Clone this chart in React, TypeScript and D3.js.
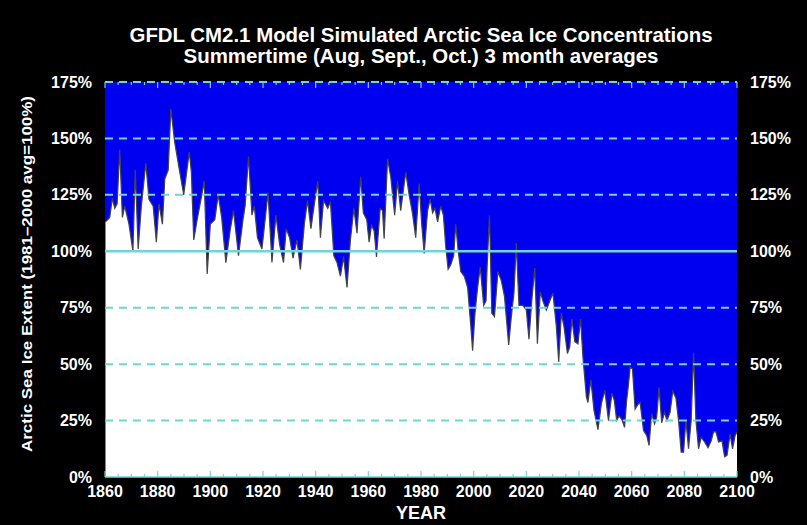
import { useEffect, useRef } from 'react'
import * as d3 from 'd3'

// simulated summertime sea ice extent, % of 1981-2000 average
const years = [
  1860.2, 1861.8, 1862.8, 1863.7, 1864.6, 1865.6, 1866.6, 1867.5, 1869.1, 1870.6,
  1871.5, 1872.6, 1873.8, 1875.5, 1876.7, 1878.3, 1879.5, 1880.5, 1881.8, 1882.7,
  1884.0, 1885.0, 1886.5, 1888.1, 1889.9, 1892.0, 1892.8, 1893.7, 1895.0, 1896.6,
  1897.7, 1898.8, 1900.0, 1901.7, 1903.0, 1904.3, 1905.9, 1907.5, 1908.8, 1910.7,
  1912.4, 1913.2, 1914.5, 1915.8, 1916.7, 1917.9, 1919.6, 1920.9, 1921.9, 1923.4,
  1924.9, 1926.3, 1927.8, 1928.8, 1930.1, 1931.4, 1932.9, 1934.2, 1935.7, 1936.9,
  1938.2, 1939.5, 1940.8, 1941.8, 1943.0, 1944.6, 1945.6, 1946.9, 1948.1, 1949.4,
  1950.6, 1951.9, 1953.2, 1954.5, 1955.7, 1957.1, 1958.1, 1959.4, 1960.3, 1961.2,
  1962.2, 1963.1, 1964.5, 1965.4, 1966.0, 1967.3, 1968.5, 1970.0, 1971.1, 1972.3,
  1974.2, 1975.5, 1976.8, 1978.0, 1979.3, 1980.3, 1981.2, 1982.5, 1983.5, 1984.4,
  1985.3, 1986.3, 1987.5, 1988.5, 1989.4, 1990.3, 1991.3, 1992.4, 1993.2, 1994.1,
  1995.1, 1996.4, 1997.7, 1998.9, 1999.6, 2000.5, 2001.5, 2002.5, 2003.8, 2004.7,
  2005.1, 2006.0, 2006.9, 2007.9, 2009.2, 2010.5, 2011.7, 2013.3, 2014.3, 2015.3,
  2016.2, 2017.2, 2018.7, 2020.0, 2021.0, 2022.1, 2023.2, 2024.2, 2025.3, 2026.3,
  2027.6, 2028.9, 2030.1, 2031.4, 2032.3, 2033.3, 2034.3, 2035.6, 2036.5, 2037.3,
  2038.4, 2039.6, 2040.6, 2041.5, 2042.8, 2043.4, 2044.5, 2045.7, 2047.2, 2048.5,
  2049.8, 2051.2, 2052.5, 2053.4, 2054.3, 2055.2, 2056.2, 2057.3, 2058.1, 2058.8,
  2059.4, 2060.3, 2061.3, 2062.3, 2063.2, 2064.5, 2065.7, 2066.6, 2067.6, 2068.7,
  2069.5, 2070.4, 2071.4, 2072.5, 2073.4, 2074.6, 2075.6, 2076.8, 2077.8, 2078.8,
  2079.7, 2080.6, 2081.6, 2082.6, 2083.5, 2084.4, 2085.4, 2086.4, 2087.7, 2089.0,
  2090.2, 2091.1, 2092.0, 2093.0, 2094.3, 2095.3, 2096.2, 2097.4, 2098.3, 2099.3,
  2100.0,
]
const extent = [
  113, 115, 123.5, 119, 121, 145, 115, 120, 112, 100,
  136, 101, 120, 139, 123, 120, 104, 121, 112, 132,
  136, 163, 148, 137, 125, 144, 135, 105, 114, 124,
  131, 90, 112, 114, 125, 115, 95, 109, 118, 98,
  114, 120, 142, 116, 120, 106, 101, 115, 126, 95,
  116, 103, 95, 110, 106, 97, 105, 92, 112, 122.5,
  110, 121, 131, 106, 122.5, 119, 122, 98, 95, 89,
  97.5, 84, 105, 119, 108, 133, 117, 114, 104, 111.5,
  109, 97.5, 119, 118, 105.6, 141, 133, 116, 131, 118,
  135, 125, 116.6, 106, 130, 111.5, 99, 118, 123, 117,
  119, 113, 120, 116, 102, 92, 94, 98, 112, 100.4,
  91, 89, 84, 67, 56, 72.5, 84, 93, 76, 78,
  93, 116, 72.5, 71, 91, 87, 80, 58.5, 71, 81.5,
  103.7, 76, 76, 74, 61, 78.5, 92.6, 59, 82, 78,
  74, 78, 81.5, 66.6, 51, 72.5, 66.6, 54.7, 57.7, 70,
  60, 59, 70, 53, 35.5, 33, 43, 29.5, 21, 32.5,
  38.4, 25, 37, 34, 25, 27, 25.7, 22, 34, 41,
  48.5, 48, 30, 32, 33, 20.6, 18.4, 14, 28, 23.5,
  26.5, 39.7, 24, 28.7, 25, 28.7, 38, 35, 25, 11,
  11, 25, 12.5, 25, 55, 25, 12.5, 17.6, 15.5, 13,
  16, 20, 20, 15.5, 16, 9, 9.6, 19, 12.5, 18.4,
  20,
]

const yTicks = [0, 25, 50, 75, 100, 125, 150, 175]
const xTicks = [1860, 1880, 1900, 1920, 1940, 1960, 1980, 2000, 2020, 2040, 2060, 2080, 2100]

const titleLines = [
  'GFDL CM2.1 Model Simulated Arctic Sea Ice Concentrations',
  'Summertime (Aug, Sept., Oct.) 3 month averages',
]
const titleWidths = [583, 475]

const W = 807
const H = 525
const FONT = '"Liberation Sans", Arial, Helvetica, sans-serif'
const GRID = '#6fd6d6'

export default function App() {
  const svgRef = useRef<SVGSVGElement | null>(null)

  useEffect(() => {
    document.body.style.margin = '0'
    if (!svgRef.current) return
    const margin = { top: 82, right: 70, bottom: 48, left: 105 }
    const innerW = W - margin.left - margin.right
    const innerH = H - margin.top - margin.bottom

    const svg = d3.select(svgRef.current)
    svg.selectAll('*').remove()

    svg.append('rect').attr('width', W).attr('height', H).attr('fill', '#000')

    const x = d3.scaleLinear().domain([1860, 2100]).range([0, innerW])
    const y = d3.scaleLinear().domain([0, 175]).range([innerH, 0])

    const g = svg.append('g').attr('transform', `translate(${margin.left},${margin.top})`)

    g.append('rect').attr('width', innerW).attr('height', innerH).attr('fill', '#0000f0')

    const pts = years.map((yr, i) => [yr, extent[i]] as [number, number])

    g.append('path')
      .datum(pts)
      .attr('fill', '#fff')
      .attr('d', d3.area<[number, number]>()
        .x(d => x(d[0]))
        .y0(innerH)
        .y1(d => y(d[1])))

    g.append('path')
      .datum(pts)
      .attr('fill', 'none')
      .attr('stroke', '#444')
      .attr('stroke-width', 1.2)
      .attr('d', d3.line<[number, number]>().x(d => x(d[0])).y(d => y(d[1])))

    // grid lines
    g.selectAll('.grid')
      .data(yTicks.filter(t => t > 0))
      .join('line')
      .attr('x1', 0)
      .attr('x2', innerW)
      .attr('y1', d => y(d))
      .attr('y2', d => y(d))
      .attr('stroke', GRID)
      .attr('stroke-width', d => (d === 100 ? 2.5 : 2))
      .attr('stroke-dasharray', d => (d === 100 ? null : '8,6'))

    g.append('line')
      .attr('x1', 0).attr('x2', innerW)
      .attr('y1', innerH).attr('y2', innerH)
      .attr('stroke', GRID).attr('stroke-width', 1.5)

    // year ticks, top and bottom
    const minor = d3.range(1860, 2101, 5)
    g.selectAll('.tb')
      .data(minor)
      .join('line')
      .attr('x1', d => x(d)).attr('x2', d => x(d))
      .attr('y1', 0).attr('y2', d => (d % 20 === 0 ? 6 : 3))
      .attr('stroke', GRID).attr('stroke-width', 1.2)
    g.selectAll('.bb')
      .data(minor)
      .join('line')
      .attr('x1', d => x(d)).attr('x2', d => x(d))
      .attr('y1', innerH).attr('y2', d => innerH - (d % 20 === 0 ? 6 : 3))
      .attr('stroke', GRID).attr('stroke-width', 1.2)

    const txt = (sel: d3.Selection<any, any, any, any>, size: number) =>
      sel.attr('fill', '#fff').attr('font-family', FONT).attr('font-weight', 'bold').attr('font-size', size)

    // y tick labels on both sides
    txt(g.selectAll('.yl').data(yTicks).join('text'), 16)
      .attr('x', -13)
      .attr('y', d => y(d))
      .attr('dy', '0.35em')
      .attr('text-anchor', 'end')
      .text(d => `${d}%`)
    txt(g.selectAll('.yr').data(yTicks).join('text'), 16)
      .attr('x', innerW + 13)
      .attr('y', d => y(d))
      .attr('dy', '0.35em')
      .attr('text-anchor', 'start')
      .text(d => `${d}%`)

    // x tick labels
    txt(g.selectAll('.xl').data(xTicks).join('text'), 16)
      .attr('x', d => x(d))
      .attr('y', innerH + 20)
      .attr('text-anchor', 'middle')
      .text(d => String(d))

    txt(g.append('text'), 18)
      .attr('x', innerW / 2)
      .attr('y', innerH + 42)
      .attr('text-anchor', 'middle')
      .text('YEAR')

    txt(svg.append('text'), 15)
      .attr('transform', `translate(32,274) rotate(-90)`)
      .attr('text-anchor', 'middle')
      .attr('textLength', 356)
      .attr('lengthAdjust', 'spacingAndGlyphs')
      .text('Arctic Sea Ice Extent (1981\u20132000 avg=100%)')

    // title
    txt(svg.selectAll('.title').data(titleLines).join('text'), 20.5)
      .attr('x', 421)
      .attr('y', (_, i) => 42 + i * 21)
      .attr('text-anchor', 'middle')
      .attr('textLength', (_, i) => titleWidths[i])
      .attr('lengthAdjust', 'spacingAndGlyphs')
      .text(d => d)
  }, [])

  return <svg ref={svgRef} width={W} height={H} style={{ display: 'block' }} />
}
